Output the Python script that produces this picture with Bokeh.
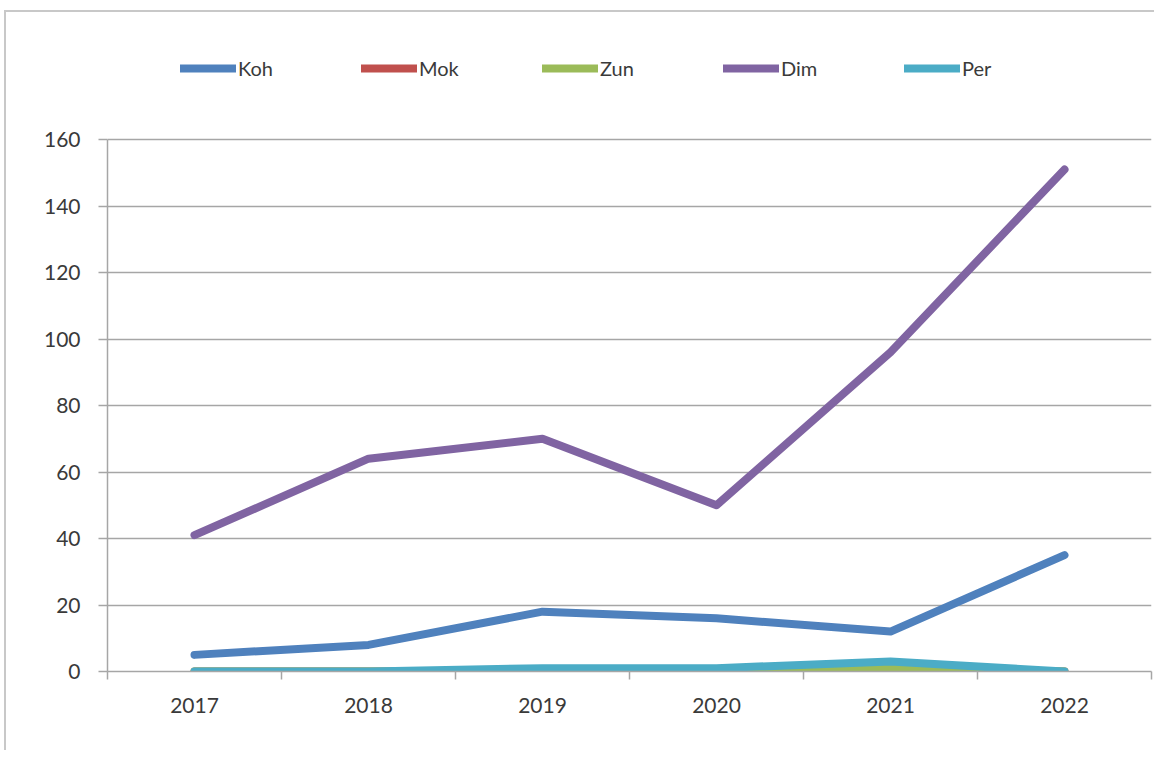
from bokeh.plotting import figure
from bokeh.models import Range1d, FixedTicker, Legend, LegendItem
from bokeh.embed import file_html
from bokeh.resources import INLINE

years = [2017, 2018, 2019, 2020, 2021, 2022]
koh = [5, 8, 18, 16, 12, 35]
mok = [0, 0, 0, 0, 0, 0]
zun = [0, 0, 0, 0, 1, 0]
dim = [41, 64, 70, 50, 96, 151]
per = [0, 0, 1, 1, 3, 0]

series_names = ["Koh", "Mok", "Zun", "Dim", "Per"]
series_values = [koh, mok, zun, dim, per]
colors = ["#4F81BD", "#C0504D", "#9BBB59", "#8064A2", "#4BACC6"]
y_ticks = [0, 20, 40, 60, 80, 100, 120, 140, 160]
y_max = 160

FONT = "Lato"
GRID = "#a6a6a6"
TEXT = "#3a3a3a"

# frame is taller than the value axis so the legend can sit inside it, above the 160 line
frame_h = 639
axis_h = 532
y_end = y_max * frame_h / axis_h

p = figure(width=1150, height=740, output_backend="svg", toolbar_location=None,
           x_range=Range1d(years[0] - 0.5, years[-1] + 0.5),
           y_range=Range1d(0, y_end),
           min_border_left=101, min_border_right=5, min_border_top=20, min_border_bottom=81)
p.styles = {"border-left": "2px solid #c8c8c8", "border-top": "2px solid #c8c8c8",
            "margin-left": "4px", "margin-top": "10px"}
p.outline_line_color = None
p.background_fill_color = "white"
p.border_fill_color = "white"

renderers = []
for name, vals, col in zip(series_names, series_values, colors):
    r = p.line(years, vals, line_color=col, line_width=8, line_cap="round", line_join="round")
    renderers.append((name, r))

# axes
xa = p.xaxis[0]
minor = [y - 0.5 for y in years] + [years[-1] + 0.5]
xa.ticker = FixedTicker(ticks=years, minor_ticks=minor)
xa.major_tick_line_color = None
xa.minor_tick_line_color = GRID
xa.minor_tick_line_width = 1.5
xa.minor_tick_out = 8
xa.minor_tick_in = 0
xa.axis_line_color = GRID
xa.axis_line_width = 1.5
xa.major_label_text_font = FONT
xa.major_label_text_font_size = "21px"
xa.major_label_text_color = TEXT
xa.major_label_standoff = 18

ya = p.yaxis[0]
ya.ticker = FixedTicker(ticks=y_ticks)
ya.bounds = (0, y_max)
ya.minor_tick_line_color = None
ya.major_tick_line_color = GRID
ya.major_tick_line_width = 1.5
ya.major_tick_out = 9
ya.major_tick_in = 0
ya.axis_line_color = GRID
ya.axis_line_width = 1.5
ya.major_label_text_font = FONT
ya.major_label_text_font_size = "21px"
ya.major_label_text_color = TEXT
ya.major_label_standoff = 18

p.xgrid.grid_line_color = None
p.ygrid.ticker = FixedTicker(ticks=y_ticks)
p.ygrid.grid_line_color = GRID
p.ygrid.grid_line_width = 1.5

legend = Legend(items=[LegendItem(label=n, renderers=[r]) for n, r in renderers],
                orientation="horizontal", location=(73, 591),
                glyph_width=56, glyph_height=20, label_standoff=2, label_width=118, spacing=5,
                label_text_font=FONT, label_text_font_size="20px", label_text_color=TEXT,
                border_line_color=None, background_fill_alpha=0, padding=0, margin=0)
p.add_layout(legend, "center")

open("out.html", "w").write(file_html(p, INLINE))
